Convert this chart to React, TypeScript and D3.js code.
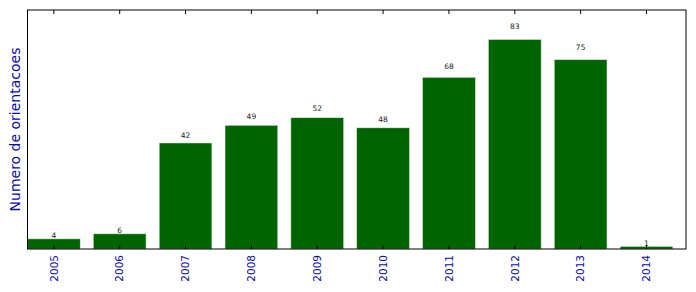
import React from "react";
import * as d3 from "d3";

const years = ["2005", "2006", "2007", "2008", "2009", "2010", "2011", "2012", "2013", "2014"];
const counts = [4, 6, 42, 49, 52, 48, 68, 83, 75, 1];
const yLabel = "Numero de orientacoes";

const W = 696, H = 292;
const M = { left: 27.5, right: 686, top: 10, bottom: 249 };

export default function App() {
  const x = d3.scaleLinear().domain([-0.4, years.length - 0.4]).range([M.left, M.right]);
  const y = d3.scaleLinear().domain([0, 94.7]).range([M.bottom, M.top]);
  const bw = x(0.8) - x(0);
  const blue = "#0a0aa8";
  return (
    <svg width={W} height={H} style={{ position: "absolute", left: 0, top: 0, fontFamily: "DejaVu Sans" }}>
      <rect x={0} y={0} width={W} height={H} fill="#fff" />
      {counts.map((v, i) => (
        <rect key={i} x={x(i) - bw / 2} y={y(v)} width={bw} height={M.bottom - y(v)} fill="#006400" stroke="#d8e8d8" strokeWidth={0.5} />
      ))}
      {counts.map((v, i) => (
        <text key={"l" + i} x={x(i)} y={y(v * 1.05)} textAnchor="middle" fontSize={7.5} fill="#222">{v}</text>
      ))}
      {years.map((yr, i) => (
        <g key={"t" + i}>
          <line x1={x(i)} x2={x(i)} y1={M.bottom} y2={M.bottom - 4} stroke="#000" />
          <line x1={x(i)} x2={x(i)} y1={M.top} y2={M.top + 4} stroke="#000" />
          <text transform={`translate(${x(i) + 3.8},${M.bottom + 6}) rotate(-90)`} textAnchor="end" fontSize={10.5} fill={blue}>{yr}</text>
        </g>
      ))}
      <rect x={M.left} y={M.top} width={M.right - M.left} height={M.bottom - M.top} fill="none" stroke="#000" strokeWidth={1} />
      <text transform={`translate(20,${(M.top + M.bottom) / 2}) rotate(-90)`} textAnchor="middle" fontSize={14} fill={blue}>{yLabel}</text>
    </svg>
  );
}
